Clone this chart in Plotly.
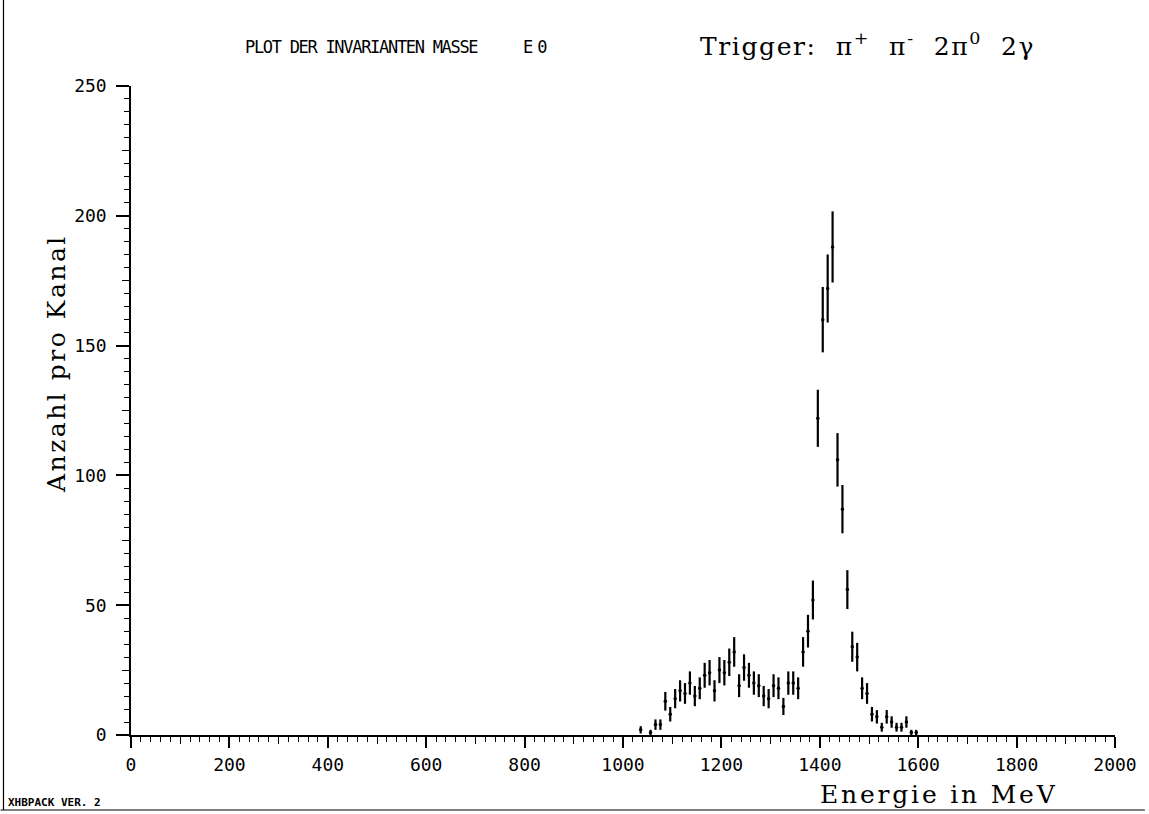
import plotly.graph_objects as go

# Invariant-mass histogram: channel centres (MeV), counts per channel, statistical errors
energie = [1036, 1056, 1066, 1076, 1086, 1096, 1106, 1116, 1126, 1136,
           1146, 1156, 1166, 1176, 1186, 1196, 1206, 1216, 1226, 1236,
           1246, 1256, 1266, 1276, 1286, 1296, 1306, 1316, 1326, 1336,
           1346, 1356, 1366, 1376, 1386, 1396, 1406, 1416, 1426, 1436,
           1446, 1456, 1466, 1476, 1486, 1496, 1506, 1516, 1526, 1536,
           1546, 1556, 1566, 1576, 1586, 1596]
anzahl = [2, 1, 4, 4, 13, 8, 14, 17, 16, 20,
          15, 18, 23, 24, 17, 25, 24, 28, 32, 19,
          26, 23, 20, 19, 15, 14, 19, 18, 11, 20,
          20, 18, 32, 40, 52, 122, 160, 172, 188, 106,
          87, 56, 34, 30, 18, 16, 8, 7, 3, 7,
          5, 3, 3, 5, 1, 1]
fehler = [1.4, 1.0, 2.0, 2.0, 3.6, 2.8, 3.7, 4.1, 4.0, 4.5,
          3.9, 4.2, 4.8, 4.9, 4.1, 5.0, 4.9, 5.3, 5.7, 4.4,
          5.1, 4.8, 4.5, 4.4, 3.9, 3.7, 4.4, 4.2, 3.3, 4.5,
          4.5, 4.2, 5.7, 6.3, 7.5, 11.0, 12.6, 13.1, 13.7, 10.3,
          9.3, 7.5, 5.8, 5.5, 4.2, 4.0, 2.8, 2.6, 1.7, 2.6,
          2.2, 1.7, 1.7, 2.2, 1.0, 1.0]

x_major = [0, 200, 400, 600, 800, 1000, 1200, 1400, 1600, 1800, 2000]
x_mid = [100, 300, 500, 700, 900, 1100, 1300, 1500, 1700, 1900]
y_major = [0, 50, 100, 150, 200, 250]
y_mid = [25, 75, 125, 175, 225]

SERIF = "DejaVu Serif, serif"
PLOTTER = "DejaVu Sans Mono, monospace"


def spaced(text, px):
    """Letter spacing wrapper (typewriter / plotter lettering)."""
    return f'<span style="letter-spacing:{px}px">{text}</span>'


fig = go.Figure()
fig.add_trace(go.Scatter(
    x=energie, y=anzahl, mode="markers",
    marker=dict(color="black", size=3.5, symbol="circle"),
    error_y=dict(type="data", array=fehler, visible=True,
                 color="black", thickness=2.2, width=0),
    showlegend=False, hoverinfo="x+y",
))
# invisible companion trace so the secondary tick axes get drawn
fig.add_trace(go.Scatter(x=[0], y=[0], xaxis="x2", yaxis="y2",
                         mode="markers", marker=dict(opacity=0),
                         showlegend=False, hoverinfo="skip"))

fig.update_layout(
    width=1149, height=814,
    margin=dict(l=131, r=30, t=86, b=79),
    paper_bgcolor="white", plot_bgcolor="white",
    font=dict(family=PLOTTER, color="black"),
    xaxis=dict(
        range=[0, 2000], tickmode="array", tickvals=x_major,
        ticktext=[str(v) for v in x_major],
        ticks="outside", ticklen=11, tickwidth=1.5, tickcolor="black",
        showline=True, linewidth=1.5, linecolor="black",
        showgrid=False, zeroline=False,
        tickfont=dict(family=PLOTTER, size=18, color="black"),
        ticklabelstandoff=2,
        minor=dict(dtick=20, tick0=0, ticks="outside", ticklen=5,
                   tickwidth=1, tickcolor="black", showgrid=False),
    ),
    xaxis2=dict(
        range=[0, 2000], overlaying="x", anchor="y", side="bottom",
        tickmode="array", tickvals=x_mid, ticks="outside", ticklen=8,
        tickwidth=1.2, tickcolor="black", showticklabels=False,
        showline=False, showgrid=False, zeroline=False,
    ),
    yaxis=dict(
        range=[0, 250], tickmode="array", tickvals=y_major,
        ticktext=[str(v) for v in y_major],
        ticks="outside", ticklen=13, tickwidth=1.5, tickcolor="black",
        showline=True, linewidth=1.5, linecolor="black",
        showgrid=False, zeroline=False,
        tickfont=dict(family=PLOTTER, size=18, color="black"),
        ticklabelstandoff=6,
        minor=dict(dtick=5, tick0=0, ticks="outside", ticklen=5,
                   tickwidth=1, tickcolor="black", showgrid=False),
    ),
    yaxis2=dict(
        range=[0, 250], overlaying="y", anchor="x", side="left",
        tickmode="array", tickvals=y_mid, ticks="outside", ticklen=8,
        tickwidth=1.2, tickcolor="black", showticklabels=False,
        showline=False, showgrid=False, zeroline=False,
    ),
)

fig.add_annotation(
    text=spaced("PLOT DER INVARIANTEN MASSE", -1.3), xref="paper", yref="paper",
    x=0.2343, y=1.060, xanchor="center", yanchor="middle", showarrow=False,
    font=dict(family=PLOTTER, size=17, color="black"),
)
fig.add_annotation(
    text=spaced("E0", 4), xref="paper", yref="paper",
    x=0.413, y=1.060, xanchor="center", yanchor="middle", showarrow=False,
    font=dict(family=PLOTTER, size=17, color="black"),
)
fig.add_annotation(
    text=spaced("Trigger:  \u03c0<sup>+</sup>  \u03c0<sup>-</sup>  "
                "2\u03c0<sup>0</sup>  2\u03b3", 1.6),
    xref="paper", yref="paper", x=0.576, y=1.064, xanchor="left",
    yanchor="middle", showarrow=False,
    font=dict(family=SERIF, size=25, color="black"),
)
fig.add_annotation(
    text=spaced("Anzahl pro Kanal", 2.5), xref="paper", yref="paper",
    x=-0.075, y=0.572, xanchor="center", yanchor="middle",
    textangle=-90, showarrow=False,
    font=dict(family=SERIF, size=25, color="black"),
)
fig.add_annotation(
    text=spaced("Energie in MeV", 2.8), xref="paper", yref="paper",
    x=0.821, y=-0.092, xanchor="center", yanchor="middle", showarrow=False,
    font=dict(family=SERIF, size=25, color="black"),
)
fig.add_annotation(
    text="<b>XHBPACK VER. 2</b>", xref="paper", yref="paper",
    x=-0.1275, y=-0.1035, xanchor="left", yanchor="middle", showarrow=False,
    font=dict(family=PLOTTER, size=11, color="black"),
)

# page border of the plotter sheet (left edge and bottom edge)
fig.add_shape(type="line", xref="paper", yref="paper",
              x0=-0.1296, x1=-0.1296, y0=-0.1156, y1=1.1325,
              line=dict(color="black", width=1.2))
fig.add_shape(type="line", xref="paper", yref="paper",
              x0=-0.1326, x1=1.0304, y0=-0.1156, y1=-0.1156,
              line=dict(color="black", width=1.2))

fig.write_html("out.html")
